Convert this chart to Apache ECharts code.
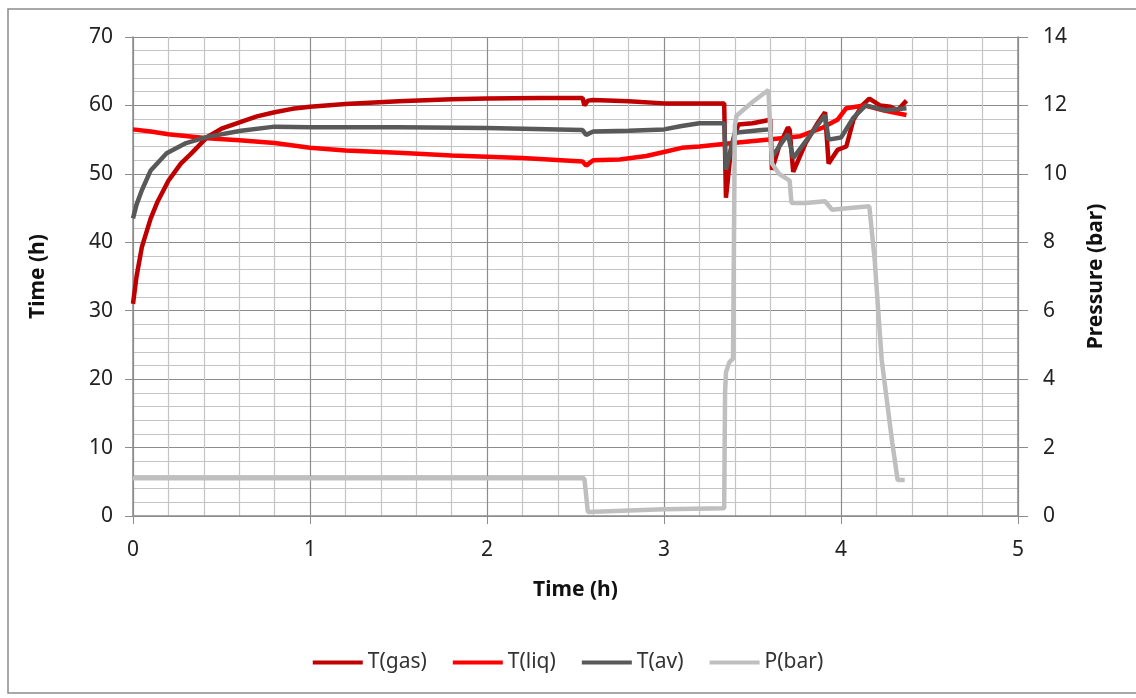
<!DOCTYPE html>
<html>
<head>
<meta charset="utf-8">
<script src="https://cdn.jsdelivr.net/npm/echarts@6/dist/echarts.min.js"></script>
<style>
  html, body { margin: 0; padding: 0; background: #fff; }
  #chart { width: 1136px; height: 698px; }
</style>
</head>
<body>
<div id="chart"></div>
<script>
    "use strict";

    // T(gas)
    var gasHours = [0, 0.02, 0.05, 0.1, 0.14, 0.2, 0.27, 0.33, 0.42, 0.5, 0.61, 0.7, 0.8, 0.9, 1.0, 1.2, 1.5, 1.8, 2.0, 2.3, 2.54, 2.55, 2.57, 2.6, 2.8, 3.0, 3.2, 3.34, 3.35, 3.38, 3.42, 3.5, 3.58, 3.6, 3.61, 3.65, 3.7, 3.71, 3.73, 3.8, 3.87, 3.91, 3.93, 3.98, 4.03, 4.07, 4.12, 4.16, 4.22, 4.28, 4.32, 4.37];
    var gasTemp = [31, 35, 39.3, 43.5, 46, 49, 51.5, 53, 55.4, 56.6, 57.6, 58.4, 59, 59.5, 59.8, 60.2, 60.6, 60.9, 61, 61.1, 61.1, 60, 60.7, 60.8, 60.6, 60.3, 60.3, 60.3, 46.5, 54, 57.2, 57.4, 57.8, 58, 50.6, 54, 56.8, 56.4, 50.3, 54.5, 57.5, 59, 51.5, 53.5, 54, 57.9, 60, 61, 60, 59.8, 59.3, 60.7];

    // T(liq)
    var liqHours = [0, 0.1, 0.2, 0.42, 0.6, 0.8, 1.0, 1.2, 1.5, 1.8, 2.0, 2.2, 2.54, 2.56, 2.6, 2.75, 2.9, 3.0, 3.1, 3.2, 3.39, 3.58, 3.77, 3.9, 3.95, 3.98, 4.03, 4.13, 4.25, 4.37];
    var liqTemp = [56.5, 56.2, 55.8, 55.2, 54.9, 54.5, 53.8, 53.4, 53.1, 52.7, 52.5, 52.3, 51.8, 51.2, 52, 52.1, 52.6, 53.2, 53.8, 54, 54.5, 55, 55.5, 56.8, 57.5, 57.9, 59.6, 60, 59.2, 58.6];

    // T(av)
    var avHours = [0, 0.02, 0.05, 0.1, 0.19, 0.3, 0.42, 0.61, 0.8, 1.0, 1.5, 2.0, 2.54, 2.56, 2.6, 2.8, 3.0, 3.1, 3.2, 3.34, 3.35, 3.4, 3.55, 3.6, 3.61, 3.7, 3.73, 3.91, 3.93, 4.0, 4.07, 4.14, 4.25, 4.37];
    var avTemp = [43.5, 45.5, 47.6, 50.5, 53, 54.5, 55.4, 56.3, 56.9, 56.8, 56.8, 56.7, 56.4, 55.7, 56.2, 56.3, 56.5, 57, 57.4, 57.4, 50.6, 56, 56.4, 56.5, 52.5, 55.8, 52.3, 58.6, 55, 55.3, 58.2, 60, 59.3, 59.6];

    // P(bar)
    var presHours = [0, 2.55, 2.57, 3.0, 3.34, 3.345, 3.35, 3.37, 3.39, 3.4, 3.41, 3.5, 3.59, 3.6, 3.61, 3.65, 3.71, 3.72, 3.8, 3.91, 3.95, 4.05, 4.16, 4.19, 4.23, 4.29, 4.32, 4.36];
    var presBar = [1.1, 1.1, 0.12, 0.2, 0.23, 3.6, 4.2, 4.5, 4.6, 11.4, 11.7, 12.1, 12.45, 12.4, 10.3, 10.0, 9.8, 9.15, 9.15, 9.2, 8.95, 9.0, 9.05, 7.5, 4.56, 2.13, 1.05, 1.05];

    function pairs(xs, ys) {
        return xs.map(function(x, i) { return [x, ys[i]]; });
    }

    var font = 'Noto Sans';
    var chart = echarts.init(document.getElementById('chart'));

    function lineSeries(name, xs, ys, color, axisIndex) {
        return {
            name: name,
            type: 'line',
            yAxisIndex: axisIndex,
            data: pairs(xs, ys),
            showSymbol: false,
            symbol: 'none',
            lineStyle: { color: color, width: 4.5 },
            itemStyle: { color: color },
            animation: false
        };
    }

    var option = {
        backgroundColor: '#fff',
        textStyle: { fontFamily: font },
        graphic: [{
            type: 'rect',
            shape: { x: 8, y: 9, width: 1140, height: 684 },
            style: { fill: 'none', stroke: '#8c8c8c', lineWidth: 1.5 },
            silent: true
        }],
        grid: { left: 133, right: 118, top: 37, bottom: 182 },
        legend: {
            bottom: 20,
            left: 'center',
            icon: 'rect',
            itemWidth: 50,
            itemHeight: 4,
            itemGap: 26,
            textStyle: { fontFamily: font, fontSize: 21, color: '#333' },
            data: ['T(gas)', 'T(liq)', 'T(av)', 'P(bar)']
        },
        xAxis: {
            type: 'value',
            min: 0, max: 5, interval: 1,
            name: 'Time (h)',
            nameLocation: 'middle',
            nameGap: 64,
            nameTextStyle: { fontFamily: font, fontSize: 21, fontWeight: 'bold', color: '#111' },
            axisLine: { lineStyle: { color: '#8c8c8c', width: 1.5 } },
            axisTick: { show: true, inside: false, length: 8, lineStyle: { color: '#8c8c8c' } },
            axisLabel: { margin: 24, fontSize: 21, color: '#222', fontFamily: font },
            splitLine: { show: true, lineStyle: { color: '#8c8c8c', width: 1.2 } },
            minorTick: { show: false, splitNumber: 5 },
            minorSplitLine: { show: true, lineStyle: { color: '#c4c4c4', width: 1.2 } }
        },
        yAxis: [{
            type: 'value',
            min: 0, max: 70, interval: 10,
            name: 'Time (h)',
            nameLocation: 'middle',
            nameRotate: 90,
            nameGap: 84,
            nameTextStyle: { fontFamily: font, fontSize: 21, fontWeight: 'bold', color: '#111' },
            axisLine: { show: true, lineStyle: { color: '#8c8c8c', width: 1.5 } },
            axisTick: { show: true, length: 8, lineStyle: { color: '#8c8c8c' } },
            axisLabel: { margin: 20, fontSize: 21, color: '#222', fontFamily: font },
            splitLine: { show: true, lineStyle: { color: '#8c8c8c', width: 1.2 } },
            minorTick: { show: false, splitNumber: 5 },
            minorSplitLine: { show: true, lineStyle: { color: '#c4c4c4', width: 1.2 } }
        }, {
            type: 'value',
            min: 0, max: 14, interval: 2,
            name: 'Pressure (bar)',
            nameLocation: 'middle',
            nameRotate: 90,
            nameGap: 68,
            nameTextStyle: { fontFamily: font, fontSize: 21, fontWeight: 'bold', color: '#111' },
            axisLine: { show: true, lineStyle: { color: '#8c8c8c', width: 1.5 } },
            axisTick: { show: true, length: 10, lineStyle: { color: '#8c8c8c' } },
            axisLabel: { margin: 25, fontSize: 21, color: '#222', fontFamily: font },
            splitLine: { show: false }
        }],
        series: [
            lineSeries('T(gas)', gasHours, gasTemp, '#c00000', 0),
            lineSeries('T(liq)', liqHours, liqTemp, '#ff0000', 0),
            lineSeries('T(av)', avHours, avTemp, '#595959', 0),
            lineSeries('P(bar)', presHours, presBar, '#bfbfbf', 1)
        ]
    };

    chart.setOption(option);
</script>
</body>
</html>
